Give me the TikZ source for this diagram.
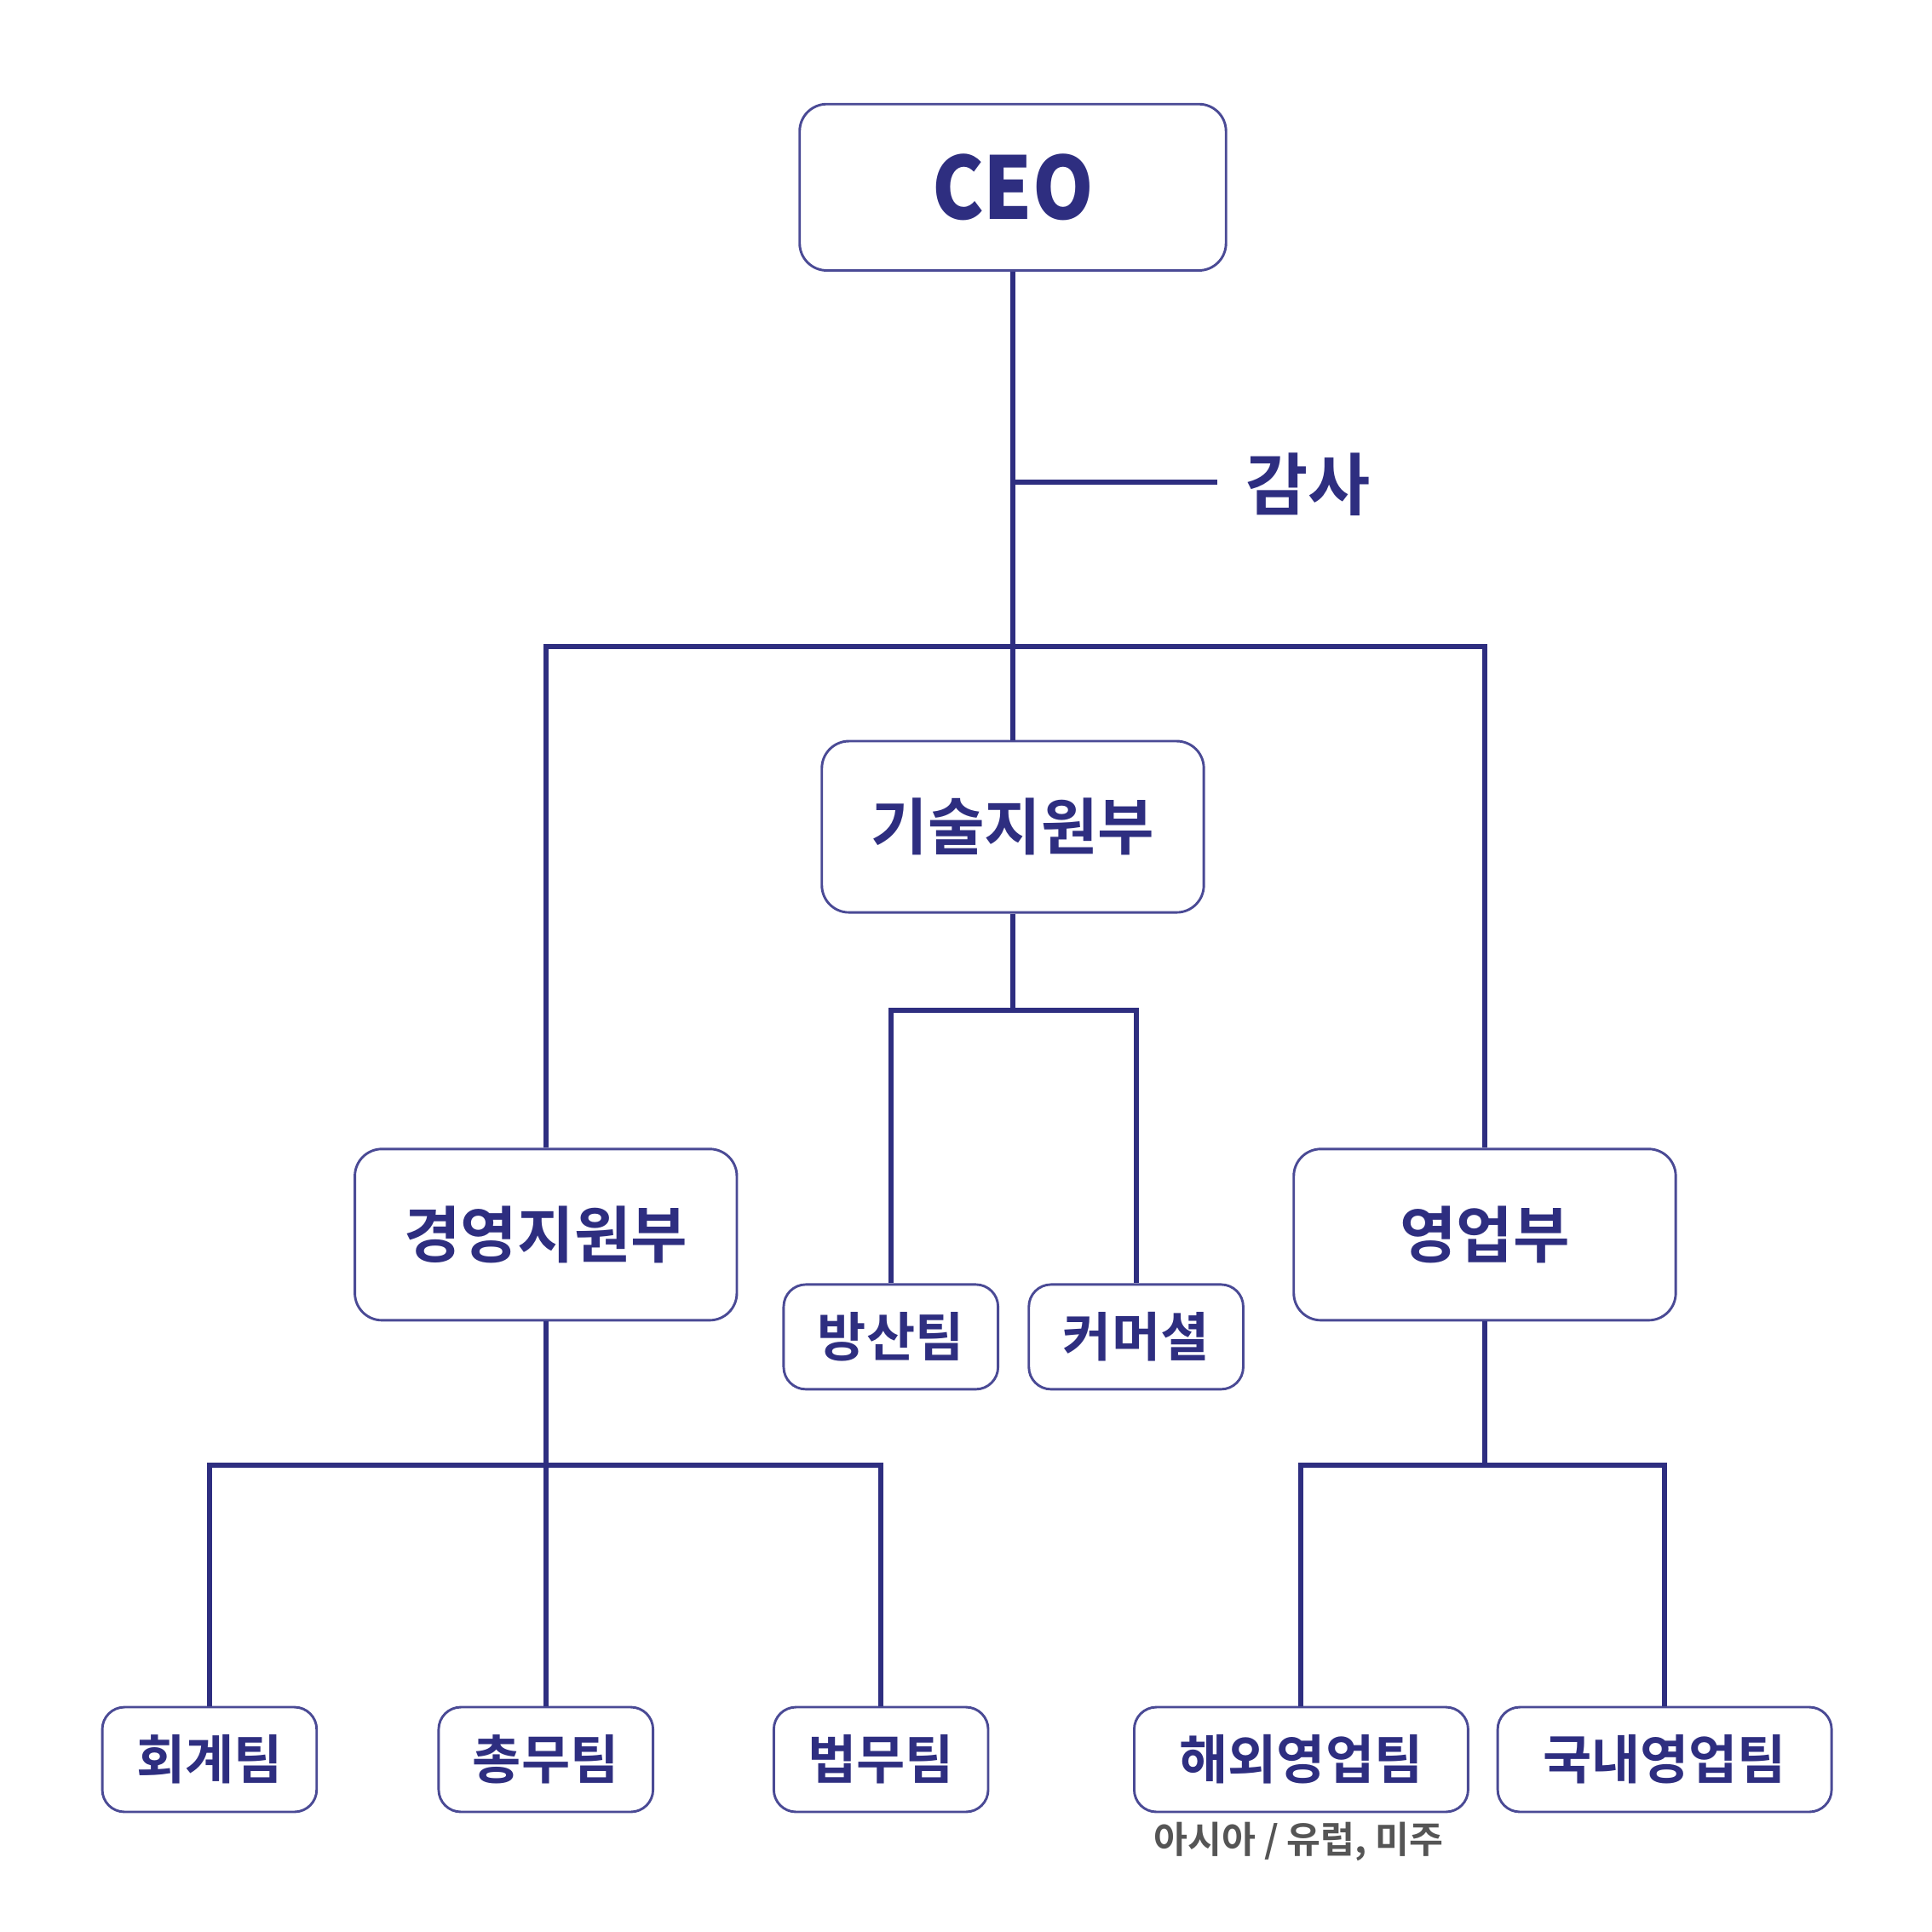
\documentclass[tikz,border=0pt]{standalone}
\usepackage{fontspec}
\setmainfont{Noto Sans CJK KR}
\newfontfamily\krb{Noto Sans CJK KR Bold}
\newfontfamily\krk{Noto Sans CJK KR Black}
\definecolor{navy}{HTML}{2E2E80}
\definecolor{boxline}{HTML}{4A4A95}
\definecolor{subgray}{HTML}{555555}
\begin{document}
\begin{tikzpicture}[x=1pt,y=-1pt,
  bigbox/.style={draw=boxline,line width=2pt,rounded corners=22pt,fill=white,
    minimum width=310pt,minimum height=139pt,inner sep=0pt,text=navy,font=\krb\fontsize{50}{54}\selectfont},
  smallbox/.style={draw=boxline,line width=2pt,rounded corners=18pt,fill=white,
    minimum width=174pt,minimum height=85pt,inner sep=0pt,text=navy,font=\krb\fontsize{43}{47}\selectfont},
  widebox/.style={smallbox,minimum width=271pt},
  link/.style={draw=navy,line width=4.2pt}]
\useasboundingbox (0,0) rectangle (1568,1568);
% nodes
\node[bigbox,minimum width=346pt,minimum height=135pt,font=\krk\fontsize{70}{74}\selectfont] (ceo) at (822,152) {\scalebox{0.9}[1]{CEO}};
\node[text=navy,font=\krb\fontsize{55}{59}\selectfont,anchor=west,inner sep=0pt] (gamsa) at (1011,393) {감사};
\node[bigbox] (tech) at (822,671) {기술지원부};
\node[bigbox] (mgmt) at (443,1002) {경영지원부};
\node[bigbox] (sales) at (1205,1002) {영업부};
\node[smallbox] (def) at (723,1085) {방산팀};
\node[smallbox] (com) at (922,1085) {커머셜};
\node[smallbox] (acc) at (170,1428) {회계팀};
\node[smallbox] (gen) at (443,1428) {총무팀};
\node[smallbox] (law) at (715,1428) {법무팀};
\node[widebox] (ovs) at (1056,1428) {해외영업팀};
\node[widebox] (dom) at (1351,1428) {국내영업팀};
\node[text=subgray,font=\krb\fontsize{30}{34}\selectfont,inner sep=0pt] (ovsnote) at (1054,1495) {아시아 / 유럽, 미주};
% coordinates
\coordinate (j1) at (822,525);
\coordinate (ja) at (822,391);
\coordinate (jae) at (988,391);
\coordinate (j2) at (822,820);
\coordinate (j3) at (443,1189);
\coordinate (j4) at (1205,1189);
% connectors
\draw[link] (ceo.south) -- (tech.north);
\draw[link] (ja) -- (jae);
\draw[link] (j1) -| (mgmt.north);
\draw[link] (j1) -| (sales.north);
\draw[link] (tech.south) -- (j2);
\draw[link] (j2) -| (def.north);
\draw[link] (j2) -| (com.north);
\draw[link] (mgmt.south) -- (gen.north);
\draw[link] (j3) -| (acc.north);
\draw[link] (j3) -| (law.north);
\draw[link] (sales.south) -- (j4);
\draw[link] (j4) -| (ovs.north);
\draw[link] (j4) -| (dom.north);
\end{tikzpicture}
\end{document}
